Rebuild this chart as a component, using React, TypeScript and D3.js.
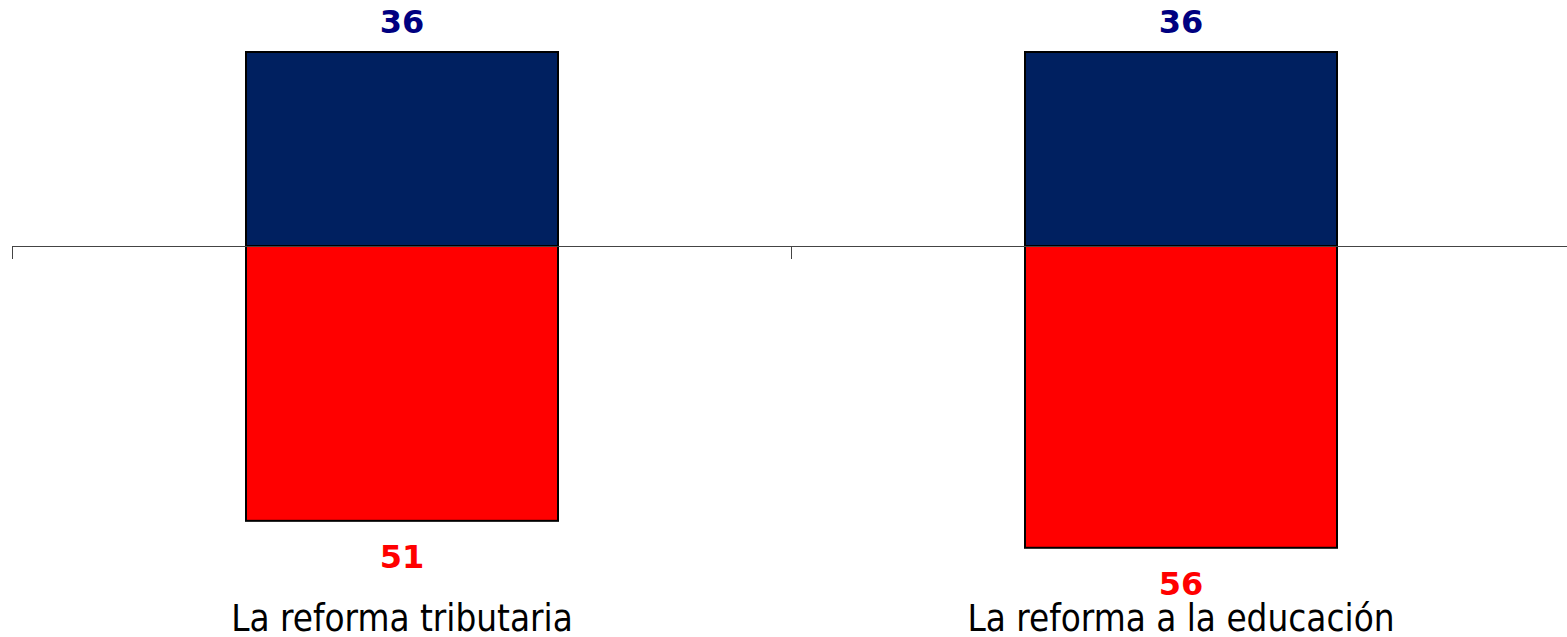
import React from "react";
import * as d3 from "d3";

const categories = ["La reforma tributaria", "La reforma a la educación"];
const positiveValues = [36, 36];
const negativeValues = [51, 56];

const W = 1567;
const H = 637;

export default function App() {
  const x = d3.scaleBand<string>().domain(categories).range([12, 1570]).paddingInner(0).paddingOuter(0);
  const barW = 312;
  const pxPerUnit = 194 / 36;
  const y0 = 246;
  const y = d3.scaleLinear().domain([0, 36]).range([y0, y0 - 194]);
  const yNeg = (v: number) => y0 + v * pxPerUnit;
  const tickXs = [12, ...categories.map((c) => Math.round((x(c) as number) + x.bandwidth()))];

  return (
    <svg width={W} height={H} style={{ position: "absolute", left: 0, top: 0 }} fontFamily="Tahoma, 'DejaVu Sans', sans-serif">
      <rect width={W} height={H} fill="#fff" />
      {categories.map((c, i) => {
        const cx = Math.round((x(c) as number) + x.bandwidth() / 2);
        const top = y(positiveValues[i]);
        const bot = yNeg(negativeValues[i]);
        return (
          <g key={c}>
            <rect x={cx - barW / 2} y={top} width={barW} height={y0 - top} fill="#002060" stroke="#000" strokeWidth={2} />
            <rect x={cx - barW / 2} y={y0} width={barW} height={bot - y0} fill="#FF0000" stroke="#000" strokeWidth={2} />
            <text x={cx} y={top - 19} textAnchor="middle" fontWeight="bold" fontSize={32} fill="#000080">
              {positiveValues[i]}
            </text>
            <text x={cx} y={bot + 47} textAnchor="middle" fontWeight="bold" fontSize={32} fill="#FF0000">
              {negativeValues[i]}
            </text>
            <text x={cx} y={631} textAnchor="middle" fontSize={36.5} fill="#000" fontFamily="'DejaVu Sans Condensed', 'DejaVu Sans', sans-serif">
              {c}
            </text>
          </g>
        );
      })}
      <line x1={12} x2={1567} y1={y0 + 0.5} y2={y0 + 0.5} stroke="#444" strokeWidth={1} />
      {tickXs.map((tx, i) => (
        <line key={i} x1={tx + 0.5} x2={tx + 0.5} y1={y0} y2={y0 + 13} stroke="#444" strokeWidth={1} />
      ))}
    </svg>
  );
}
